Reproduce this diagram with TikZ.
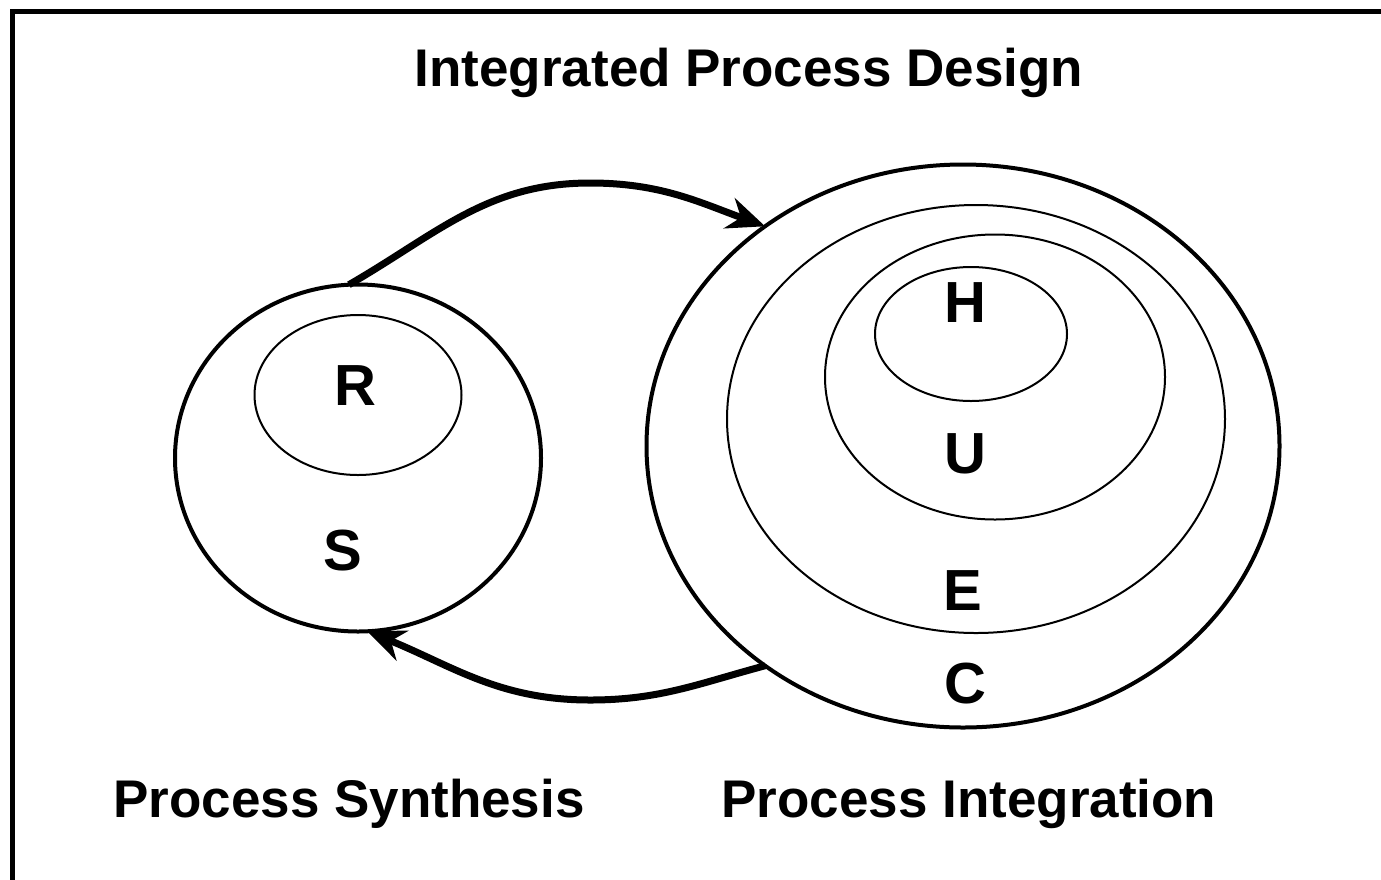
\documentclass[tikz,border=0pt]{standalone}
\usepackage{fontspec}
\setmainfont{Liberation Sans}
\usetikzlibrary{positioning, arrows.meta, shapes.geometric}

\begin{document}
\begin{tikzpicture}[
    x=1pt, y=-1pt,
    outer/.style={draw, ellipse, line width=4pt, inner sep=0pt, outer sep=0pt},
    inner/.style={outer, line width=2pt},
    letter/.style={font=\fontsize{58}{60}\selectfont\bfseries, anchor=base},
    caption/.style={font=\fontsize{53}{60}\selectfont\bfseries, anchor=base},
    arrow/.style={-{Stealth[length=38pt, width=32pt]}, line width=7pt}
]
\useasboundingbox (0,0) rectangle (1381,879);
\clip (0,0) rectangle (1381,879);
\draw[line width=5pt] (12.5,11.5) rectangle (1420,920);

\node[caption] (title) at (749,86) {Integrated Process Design};

% synthesis side
\node[outer, minimum width=366pt, minimum height=347pt] (S) at (358,458) {};
\node[inner, minimum width=207pt, minimum height=160pt] (R) at (358,395) {};
\node[letter] (lR) at (355,405) {R};
\node[letter] (lS) at (343,570) {S};

% integration side
\node[outer, minimum width=633pt, minimum height=563pt] (C) at (963,446) {};
\node[inner, minimum width=498pt, minimum height=428pt] (E) at (976,419) {};
\node[inner, minimum width=340pt, minimum height=285pt] (U) at (995,377) {};
\node[inner, minimum width=192pt, minimum height=134pt] (H) at (971,334) {};
\node[letter] (lH) at (965,322) {H};
\node[letter] (lU) at (965,473) {U};
\node[letter] (lE) at (963,610) {E};
\node[letter] (lC) at (965,703) {C};

\node[caption] (synth) at (349,817) {Process Synthesis};
\node[caption] (integ) at (969,817) {Process Integration};

\coordinate (top) at (590,183);
\coordinate (bot) at (590,700);
\draw[arrow] (S.93) to[out=30, in=180] (top) to[out=0, in=160] (C.132);
\draw[arrow] (C.228) to[out=195, in=0] (bot) to[out=180, in=-22] (S.273);
\end{tikzpicture}
\end{document}
